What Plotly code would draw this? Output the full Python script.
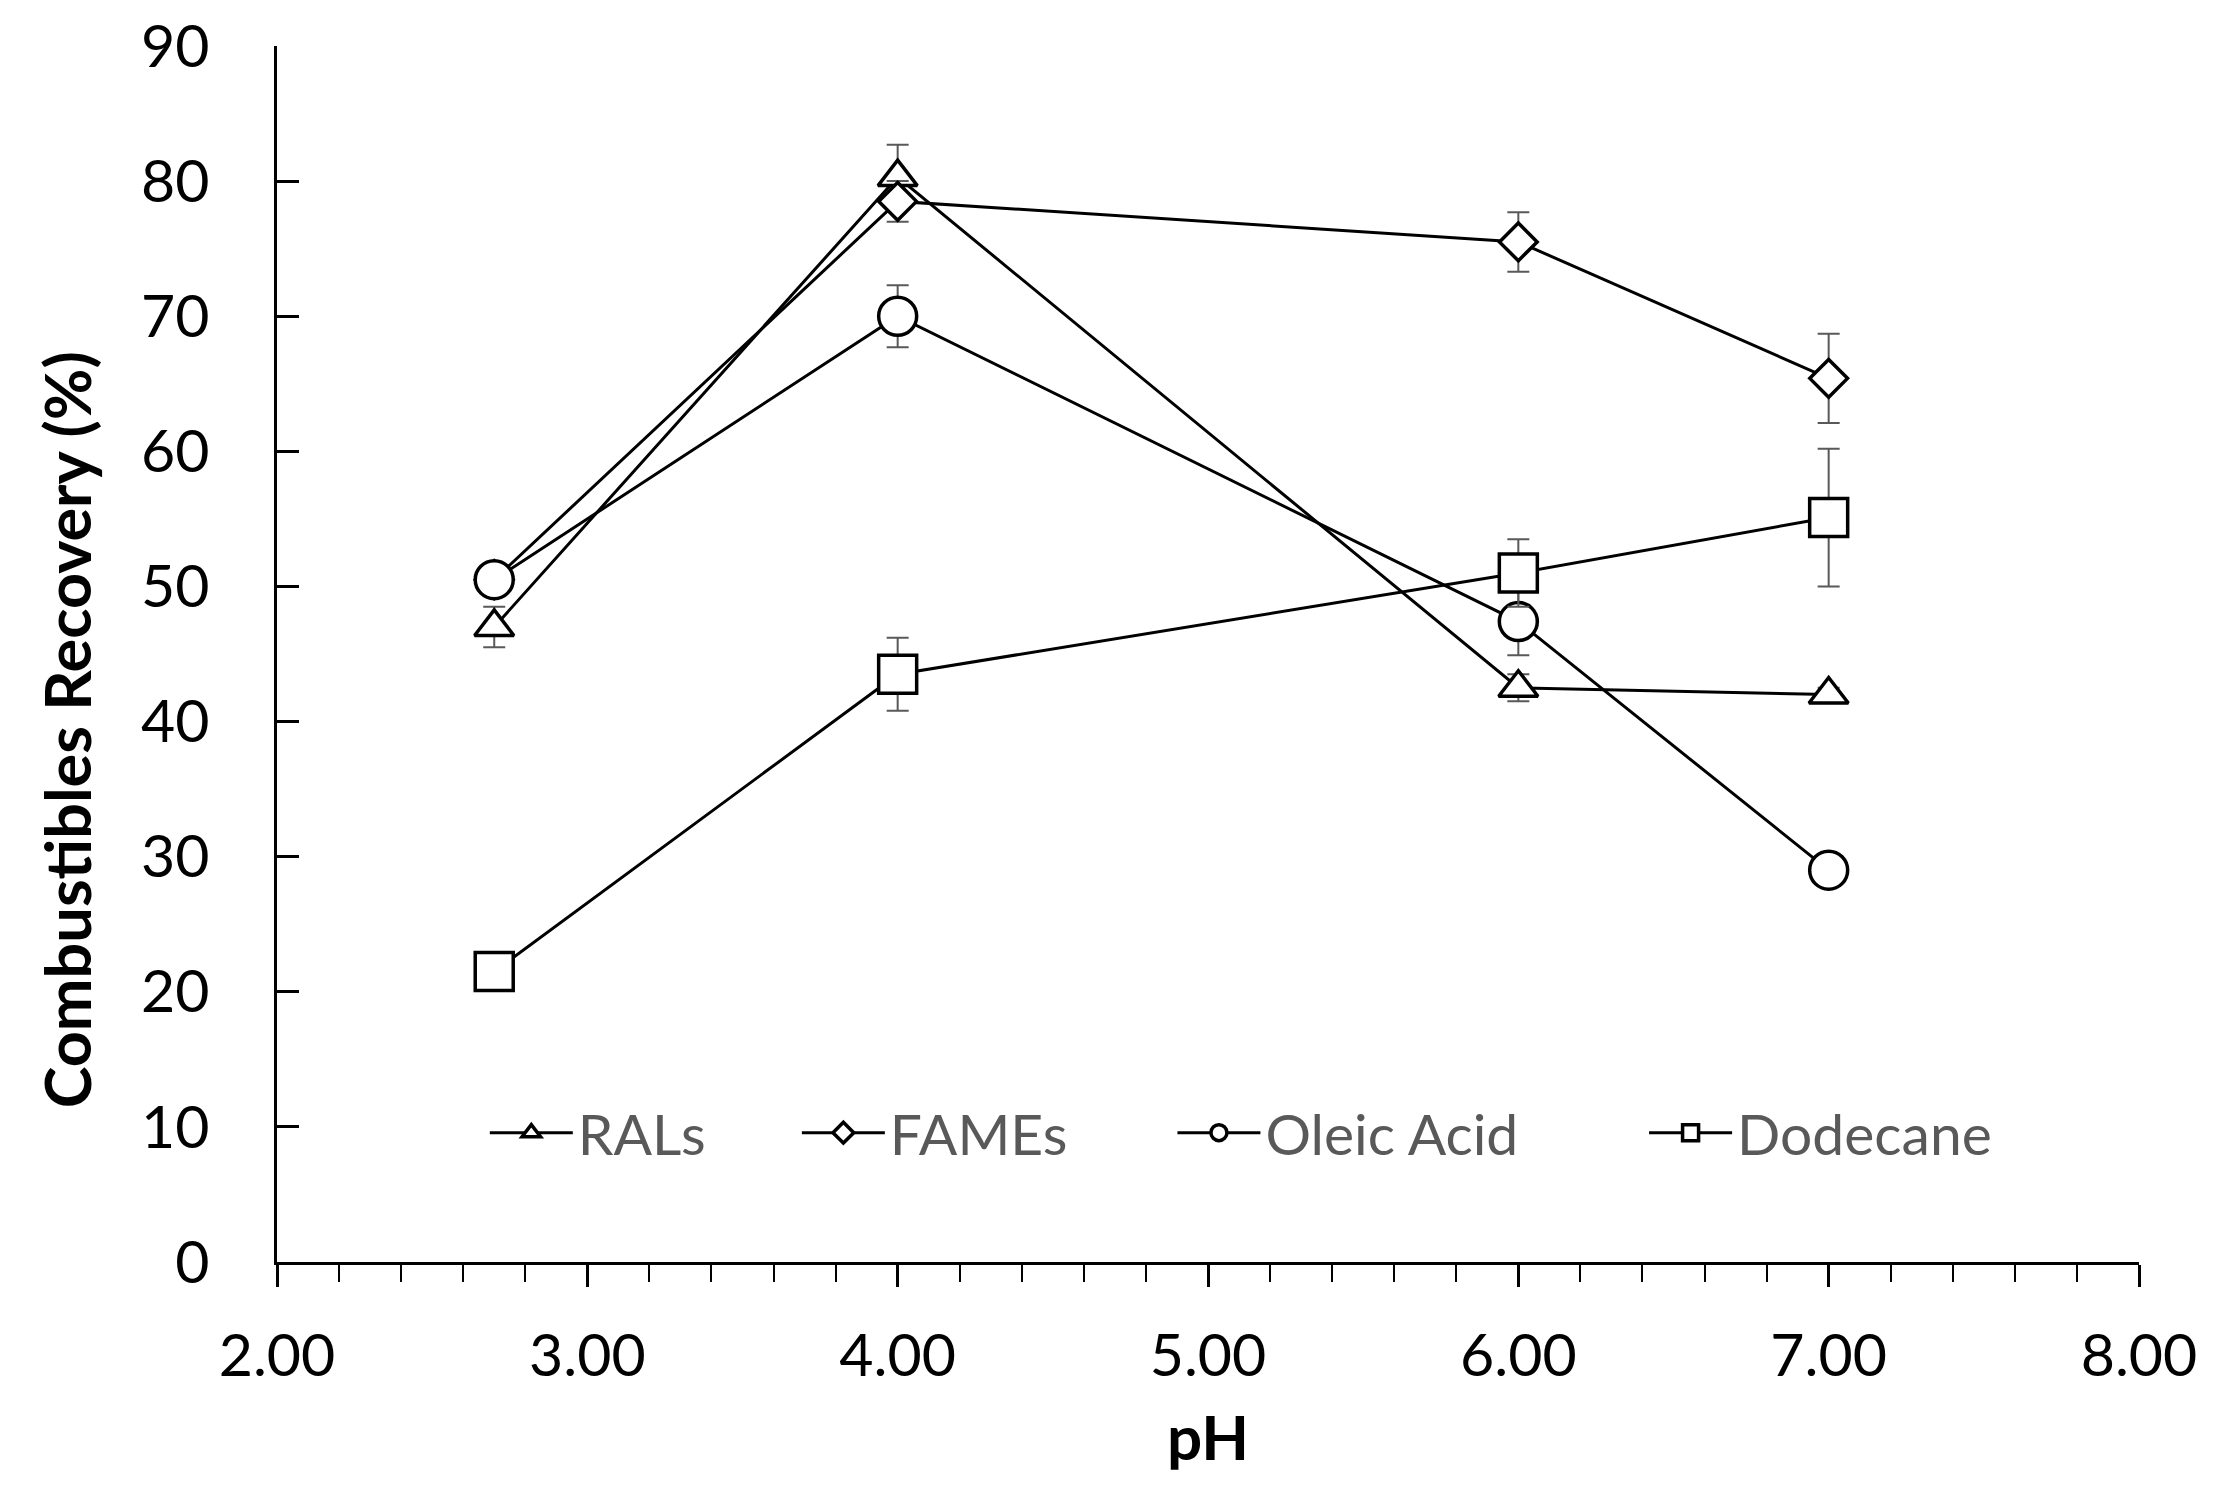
import plotly.graph_objects as go

ph = [2.7, 4.0, 6.0, 7.0]
rals = [47.0, 80.3, 42.5, 42.0]
rals_err = [1.5, 2.4, 1.0, 0.5]
fames = [50.5, 78.5, 75.5, 65.4]
fames_err = [1.0, 1.5, 2.2, 3.3]
oleic = [50.5, 70.0, 47.4, 29.0]
oleic_err = [1.0, 2.3, 2.5, 1.0]
dodecane = [21.5, 43.5, 51.0, 55.1]
dodecane_err = [1.0, 2.7, 2.5, 5.1]

names = ["RALs", "FAMEs", "Oleic Acid", "Dodecane"]
series = [rals, fames, oleic, dodecane]
errors = [rals_err, fames_err, oleic_err, dodecane_err]
symbols = ["triangle-up", "diamond", "circle", "square"]
sizes = [34, 29, 38, 38]
legend_ids = ["legend", "legend2", "legend3", "legend4"]
legend_x = [0.1116, 0.2792, 0.4809, 0.7342]

FONT = "Lato"
fig = go.Figure()
for name, ys, err, sym, sz, lg in zip(names, series, errors, symbols, sizes, legend_ids):
    fig.add_trace(go.Scatter(
        x=ph, y=ys, name=name, mode="lines+markers", legend=lg,
        line=dict(color="black", width=3),
        marker=dict(symbol=sym, size=sz, color="white",
                    line=dict(color="black", width=3.5)),
        error_y=dict(type="data", array=err, visible=True, color="#595959",
                     thickness=2, width=11),
    ))

legend_style = dict(orientation="h", y=0.106, xanchor="left", yanchor="middle",
                    font=dict(family=FONT, size=57, color="#595959"),
                    bgcolor="rgba(0,0,0,0)", itemwidth=83)

fig.update_layout(
    width=2214, height=1490,
    margin=dict(l=269, r=83, t=38, b=236, autoexpand=False),
    paper_bgcolor="white", plot_bgcolor="white",
    font=dict(family=FONT, size=59, color="black"),
    showlegend=True,
    legend=dict(x=legend_x[0], **legend_style),
    legend2=dict(x=legend_x[1], **legend_style),
    legend3=dict(x=legend_x[2], **legend_style),
    legend4=dict(x=legend_x[3], **legend_style),
    annotations=[dict(
        text="<b>Combustibles Recovery (%)</b>", textangle=-90,
        xref="paper", yref="paper", x=-0.113, y=0.4377,
        xanchor="center", yanchor="middle", showarrow=False,
        font=dict(family=FONT, size=63, color="black"),
    )],
)
fig.update_xaxes(
    range=[2, 8], dtick=1, tick0=2, tickformat=".2f",
    showline=True, linecolor="black", linewidth=2.5, mirror=False,
    showgrid=False, zeroline=False,
    ticks="outside", ticklen=22, tickwidth=2.5, tickcolor="black",
    minor=dict(dtick=0.2, ticks="outside", ticklen=17, tickwidth=2, tickcolor="black", showgrid=False),
    ticklabelstandoff=18, ticklabeloverflow="allow",
    title=dict(text="<b>pH</b>", font=dict(family=FONT, size=62, color="black"), standoff=30),
)
fig.update_yaxes(
    range=[0, 90], dtick=10,
    showline=True, linecolor="black", linewidth=2.5,
    showgrid=False, zeroline=False,
    ticks="inside", ticklen=22, tickwidth=2.5, tickcolor="black",
    ticklabelstandoff=53, ticklabeloverflow="allow",
)

fig.write_html("out.html")
